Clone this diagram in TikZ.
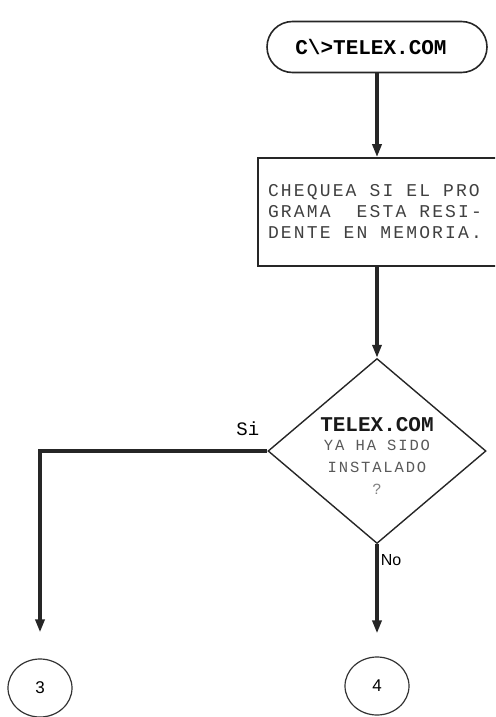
\documentclass[tikz,border=0pt]{standalone}
\usepackage{fontspec}
\newfontfamily\dotfont{Liberation Mono}
\newfontfamily\dotwide[LetterSpace=12]{Liberation Mono}
\newfontfamily\labfont{Liberation Sans}
\usetikzlibrary{arrows.meta, positioning, shapes.geometric, shapes.misc}
% one printer column of blank
\newcommand{\dspc}{\hspace*{13pt}}

\begin{document}
\begin{tikzpicture}[x=1pt, y=-1pt, >={Triangle[length=13pt, width=9pt]},
			terminal/.style={rounded rectangle, draw=black!85, line width=1.6pt, minimum width=220pt, minimum height=51pt, inner sep=0pt, font=\dotfont\bfseries\fontsize{21}{21}\selectfont},
			process/.style={rectangle, draw=black!85, line width=1.6pt, minimum width=250pt, minimum height=108pt, inner sep=0pt, text width=230pt, align=left, text=black!75, font=\dotwide\fontsize{18}{21}\selectfont},
			decision/.style={diamond, draw=black!85, line width=1.4pt, minimum width=218pt, minimum height=185pt, inner sep=0pt},
			connector/.style={ellipse, draw=black!80, line width=1.2pt, minimum width=64pt, minimum height=58pt, inner sep=0pt, font=\labfont\fontsize{17}{17}\selectfont},
			flow/.style={->, line width=3.5pt, draw=black!85},
			label/.style={font=\dotfont\fontsize{19}{19}\selectfont, inner sep=0pt}
			]
			
			% frame of the page
			\clip (0,0) rectangle (495,717);
			
			% 1. Start
			\node[terminal] (start) at (377,47) {C\textbackslash>TELEX.COM\hspace*{12pt}};
			
			% 2. Check if resident
			\node[process] (check) at (383,212) {CHEQUEA\dspc SI\dspc EL\dspc PRO\\GRAMA\dspc\dspc ESTA\dspc RESI-\\DENTE\dspc EN\dspc MEMORIA.};
			
			% 3. Decision
			\node[decision] (installed) at (377,451) {};
			\node[align=center, inner sep=0pt, font=\dotwide\fontsize{15.5}{22}\selectfont, text=black!65] (question) at (377,456) {%
				{\dotfont\bfseries\fontsize{21}{21}\selectfont\color{black!90}TELEX.COM}\\[-3pt]
				YA HA SIDO\\
				INSTALADO\\
				\color{black!50}?};
			
			% 4. Connectors
			\node[connector] (con3) at (40,688) {3};
			\node[connector] (con4) at (377,686) {4};
			
			% Flow lines
			\draw[flow] (start.south) -- (start.south |- check.north);
			\draw[flow] (installed.north |- check.south) -- (installed.north);
			\draw[flow, line width=4pt, shorten >=26pt] (installed.west) -| (con3.north)
				node[label, at start, anchor=south east, xshift=-6pt, yshift=13pt] {Si};
			\draw[flow, shorten >=23pt] (installed.south) -- (con4.north)
				node[label, pos=0.14, right, xshift=2pt, font=\labfont\fontsize{16}{16}\selectfont] {No};
			
		\end{tikzpicture}
\end{document}
